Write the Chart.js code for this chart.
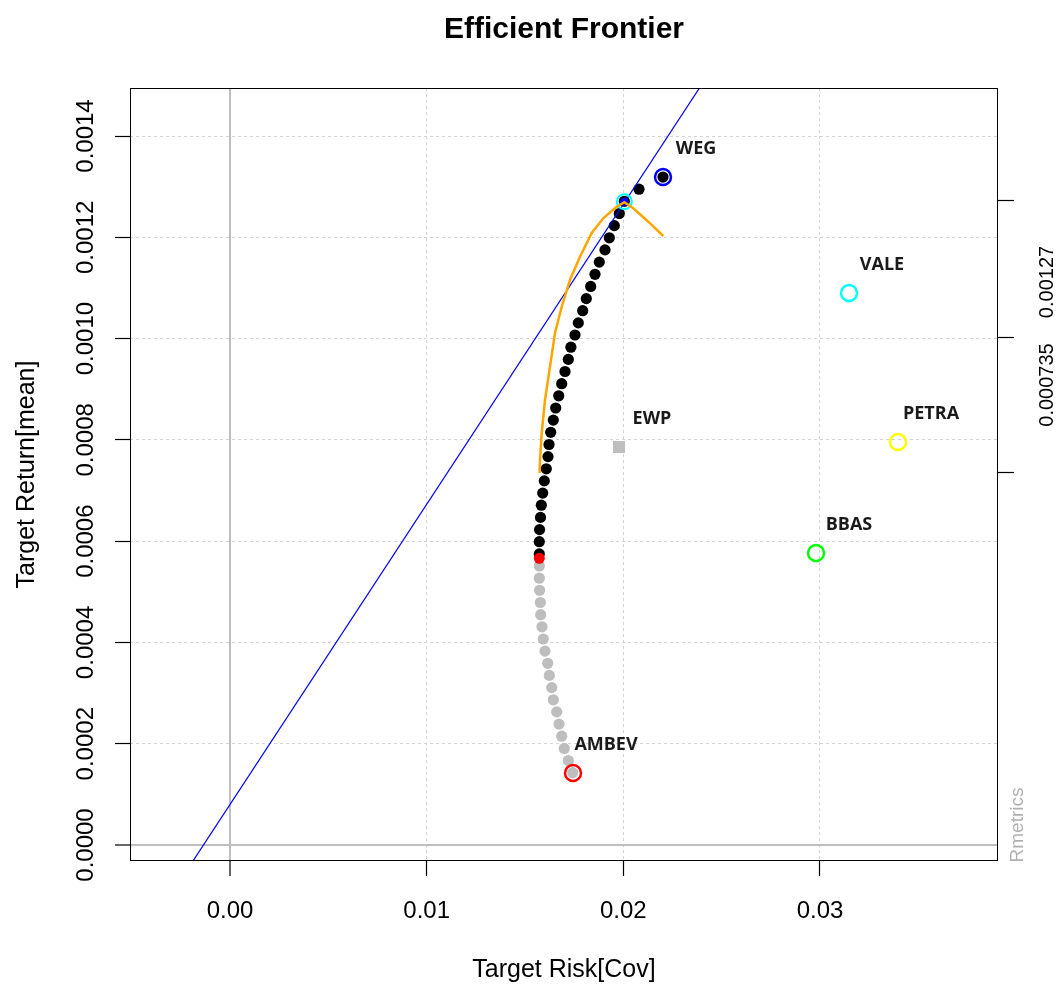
<!DOCTYPE html>
<html><head><meta charset="utf-8">
<script src="https://cdn.jsdelivr.net/npm/chart.js@4.4.1/dist/chart.umd.min.js"></script>
<style>html,body{margin:0;padding:0;background:#fff;}#wrap{width:1059px;height:988px;}</style>
</head><body><div id="wrap"><canvas id="c" width="1059" height="988"></canvas></div>
<script>
// ---------- data ----------
const frontierRisk = [
  0.017426, 0.017202, 0.016998, 0.016866, 0.016729, 0.016612, 0.016439, 0.016358, 0.016236, 0.016154,
  0.016017, 0.015931, 0.015864, 0.015798, 0.015778, 0.015742, 0.015727, 0.015727, 0.015727, 0.015727,
  0.015742, 0.015788, 0.015829, 0.015900, 0.015981, 0.016083, 0.016170, 0.016220, 0.016307, 0.016439,
  0.016561, 0.016714, 0.016866, 0.017034, 0.017202, 0.017334, 0.017542, 0.017710, 0.017934, 0.018117,
  0.018341, 0.018559, 0.018778, 0.019068, 0.019287, 0.019541, 0.019795, 0.020049, 0.020797, 0.022017
];
const frontierReturn = [
  0.0001428, 0.0001669, 0.0001907, 0.0002148, 0.0002387, 0.0002628, 0.0002867, 0.0003108, 0.0003349, 0.0003588,
  0.0003829, 0.0004068, 0.0004309, 0.0004548, 0.0004788, 0.0005029, 0.0005268, 0.0005509, 0.0005748, 0.0005989,
  0.0006228, 0.0006469, 0.0006710, 0.0006949, 0.0007190, 0.0007428, 0.0007669, 0.0007908, 0.0008149, 0.0008390,
  0.0008629, 0.0008870, 0.0009109, 0.0009350, 0.0009589, 0.0009830, 0.0010071, 0.0010310, 0.0010550, 0.0010789,
  0.0011030, 0.0011269, 0.0011510, 0.0011751, 0.0011990, 0.0012231, 0.0012470, 0.0012711, 0.0012950, 0.0013190
];
const minVarRisk = 0.015727;
const minVarReturn = 0.0005661;
const tangencyRisk = 0.020049;
const tangencyReturn = 0.0012703;

const sharpeRisk = [0.015737, 0.015763, 0.015849, 0.016017, 0.016271, 0.016525, 0.016866, 0.017288, 0.017797,
  0.018392, 0.018981, 0.019576, 0.020049, 0.020507, 0.021269, 0.022032];
const sharpeValue = [0.0007345, 0.0007602, 0.0008135, 0.0008787, 0.0009445, 0.0010110, 0.0010629, 0.0011156, 0.0011617,
  0.0012085, 0.0012376, 0.0012578, 0.0012691, 0.0012573, 0.0012308, 0.0012025];

const cmlRisk = [-0.003, 0.026];
const cmlReturn = [-0.0000978, 0.001621];

const assetNames = ['WEG', 'VALE', 'PETRA', 'BBAS', 'AMBEV'];
const assetRisk = [0.022017, 0.031475, 0.033966, 0.029797, 0.017441];
const assetReturn = [0.0013190, 0.0010900, 0.0007958, 0.0005766, 0.0001422];
const assetColors = ['#0000ff', '#00ffff', '#ffff00', '#00ff00', '#ff0000'];

const ewpName = 'EWP';
const ewpRisk = 0.019780;
const ewpReturn = 0.0007859;

const xTicks = [0, 0.01, 0.02, 0.03];
const xTickLabels = ['0.00', '0.01', '0.02', '0.03'];
const yTicks = [0, 0.0002, 0.0004, 0.0006, 0.0008, 0.0010, 0.0012, 0.0014];
const yTickLabels = ['0.0000', '0.0002', '0.0004', '0.0006', '0.0008', '0.0010', '0.0012', '0.0014'];
const rightTicks = [0.0007346, 0.0009083, 0.0010031, 0.0011117, 0.0012717];
const rightTickLabels = ['', '0.000735', '', '0.00127', ''];

// ---------- chart ----------
const FF = "'Liberation Sans', Arial, sans-serif";
Chart.defaults.color = '#000';
Chart.defaults.font.family = FF;

const pts = (xs, ys) => xs.map((x, i) => ({x: x, y: ys[i]}));

const gridColor = c => (c.tick && c.tick.value === 0) ? '#bebebe' : '#d3d3d3';
const gridWidth = c => (c.tick && c.tick.value === 0) ? 2 : 1;
const gridDash = c => (c.tick && c.tick.value === 0) ? [] : [3, 3];

const boxPlugin = {
  id: 'box',
  afterDatasetsDraw(chart) {
    const {ctx, chartArea: a} = chart;
    ctx.save();
    ctx.strokeStyle = '#000';
    ctx.lineWidth = 1;
    ctx.strokeRect(Math.round(a.left) + 0.5, Math.round(a.top) + 0.5,
      Math.round(a.right - a.left) - 1, Math.round(a.bottom - a.top) - 1);
    ctx.restore();
  },
  afterDraw(chart) {
    const {ctx, scales} = chart;
    const xs = scales.x, ys = scales.y;
    ctx.save();
    ctx.font = "bold 18px 'Open Sans', sans-serif";
    ctx.fillStyle = '#1a1a1a';
    ctx.textAlign = 'center';
    ctx.textBaseline = 'middle';
    assetNames.forEach((n, i) => {
      ctx.fillText(n, xs.getPixelForValue(assetRisk[i]) + 33, ys.getPixelForValue(assetReturn[i]) - 28);
    });
    ctx.fillText(ewpName, xs.getPixelForValue(ewpRisk) + 33, ys.getPixelForValue(ewpReturn) - 28);
    // Rmetrics stamp
    ctx.font = "19px " + FF;
    ctx.fillStyle = '#b0b0b0';
    ctx.translate(chart.chartArea.right + 20, chart.chartArea.bottom - 36);
    ctx.rotate(-Math.PI / 2);
    ctx.fillText('Rmetrics', 0, 0);
    ctx.restore();
  }
};

new Chart(document.getElementById('c'), {
  type: 'scatter',
  data: {
    datasets: [
      { label: 'EWP', data: [{x: ewpRisk, y: ewpReturn}], pointStyle: 'rect', pointRadius: 8.5,
        pointBackgroundColor: '#bebebe', pointBorderWidth: 0, order: 1 },
      { label: 'Sharpe', data: pts(sharpeRisk, sharpeValue), showLine: true, borderColor: '#ffa500',
        borderWidth: 2.5, pointRadius: 0, tension: 0, order: 2 },
      { label: 'Assets', data: pts(assetRisk, assetReturn), pointRadius: 8, pointBorderWidth: 2.5,
        pointBackgroundColor: 'rgba(0,0,0,0)', pointBorderColor: assetColors, order: 3 },
      { label: 'Tangency ring', data: [{x: tangencyRisk, y: tangencyReturn}], pointRadius: 7.5, pointBorderWidth: 2,
        pointBackgroundColor: 'rgba(0,0,0,0)', pointBorderColor: '#00ffff', order: 4 },
      { label: 'Tangency', data: [{x: tangencyRisk, y: tangencyReturn}], pointRadius: 4, pointBorderWidth: 0,
        pointBackgroundColor: '#0000ff', order: 5 },
      { label: 'CML', data: pts(cmlRisk, cmlReturn), showLine: true, borderColor: '#0000ff',
        borderWidth: 1.2, pointRadius: 0, order: 6 },
      { label: 'MinVar', data: [{x: minVarRisk, y: minVarReturn}], pointRadius: 5.5, pointBorderWidth: 0,
        pointBackgroundColor: '#ff0000', order: 7 },
      { label: 'Frontier', data: pts(frontierRisk, frontierReturn), pointRadius: 5.6, pointBorderWidth: 0,
        pointBackgroundColor: c => (frontierReturn[c.dataIndex] >= minVarReturn ? '#000000' : '#bebebe'), order: 8 }
    ]
  },
  options: {
    responsive: false,
    animation: false,
    events: [],
    layout: { padding: 0 },
    plugins: {
      legend: { display: false },
      tooltip: { enabled: false },
      title: { display: true, fullSize: false, text: 'Efficient Frontier', color: '#000',
        font: { size: 30, weight: 'bold', family: FF }, padding: { top: 12, bottom: 40 } }
    },
    scales: {
      x: {
        type: 'linear', position: 'bottom', min: -0.005085, max: 0.039051,
        afterBuildTicks: s => { s.ticks = xTicks.map(v => ({value: v})); },
        afterFit: s => { s.height = 127; },
        ticks: { callback: (v, i) => xTickLabels[i], font: { size: 24 }, color: '#000', padding: 21,
          autoSkip: false, maxRotation: 0 },
        grid: { color: gridColor, lineWidth: gridWidth, tickColor: '#000', tickLength: 15, tickWidth: 1.2,
          tickBorderDash: [] },
        border: { display: false, dash: gridDash },
        title: { display: true, text: 'Target Risk[Cov]', font: { size: 25 }, color: '#000',
          padding: { top: 0, bottom: 3 } }
      },
      y: {
        type: 'linear', position: 'left', min: -0.0000316, max: 0.0014948,
        afterBuildTicks: s => { s.ticks = yTicks.map(v => ({value: v})); },
        afterFit: s => { s.width = 130; },
        ticks: { callback: (v, i) => yTickLabels[i], font: { size: 24 }, color: '#000', padding: -8,
          autoSkip: false, minRotation: 90, maxRotation: 90, crossAlign: 'center' },
        grid: { color: gridColor, lineWidth: gridWidth, tickColor: '#000', tickLength: 15, tickWidth: 1.2,
          tickBorderDash: [] },
        border: { display: false, dash: gridDash },
        title: { display: true, text: 'Target Return[mean]', font: { size: 25 }, color: '#000',
          padding: { top: 12, bottom: 0 } }
      },
      y2: {
        type: 'linear', position: 'right', min: -0.0000316, max: 0.0014948,
        afterBuildTicks: s => { s.ticks = rightTicks.map(v => ({value: v})); },
        afterFit: s => { s.width = 61; },
        ticks: { callback: (v, i) => rightTickLabels[i], font: { size: 20 }, color: '#000', padding: -8,
          autoSkip: false, minRotation: 90, maxRotation: 90, crossAlign: 'center' },
        grid: { drawOnChartArea: false, tickLength: 16, tickWidth: 1.2,
          tickColor: c => (rightTickLabels[c.index] === '' ? '#000' : 'rgba(0,0,0,0)') },
        border: { display: false }
      }
    }
  },
  plugins: [boxPlugin]
});
</script>
</body></html>
